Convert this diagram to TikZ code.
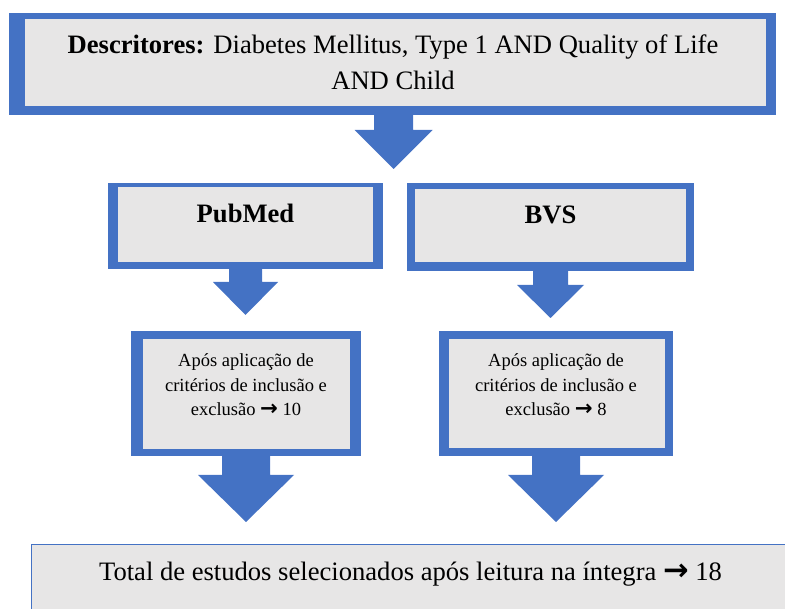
\documentclass[tikz,border=0pt]{standalone}
\usepackage{fontspec}
\setmainfont{Liberation Serif}
\newfontfamily\arrowfont{DejaVu Sans}
\usetikzlibrary{calc}
\definecolor{ablue}{HTML}{4472C4}
\definecolor{agray}{HTML}{E7E6E6}
\newcommand\rarr{{\arrowfont\bfseries\scalebox{1.15}{→}}}
\newcommand\blockarrow[5]{%
  \fill[ablue] ($(#1)+(-#2,-1)$) -- ($(#1)+(#2,-1)$) -- ($(#1)+(#2,#4)$) -- ($(#1)+(#3,#4)$)
    -- ($(#1)+(0,#5)$) -- ($(#1)+(-#3,#4)$) -- ($(#1)+(-#2,#4)$) -- cycle;}
\tikzset{
  frame/.style={fill=ablue, inner sep=0pt, anchor=north west},
  bigtxt/.style={anchor=base, inner sep=0pt, font=\fontsize{26.6}{35.5}\selectfont},
  smalltxt/.style={anchor=base, inner sep=0pt, font=\fontsize{18.5}{24.5}\selectfont},
}
\begin{document}
\begin{tikzpicture}[x=1pt, y=-1pt]
\useasboundingbox (0,0) rectangle (785,609);
\clip (0,0) rectangle (785,609);

% top box
\node[frame, minimum width=767pt, minimum height=102pt] (top) at (9,13) {};
\fill[agray] (25,19) rectangle (766,106);
\node[bigtxt] (toptxt) at (393,54) {\begin{tabular}[t]{@{}c@{}}\textbf{Descritores:} Diabetes Mellitus, Type 1 AND Quality of Life\\ AND Child\end{tabular}};

% PubMed box
\node[frame, minimum width=275pt, minimum height=86pt] (pub) at (108,183) {};
\fill[agray] (118,187) rectangle (373,262);
\node[bigtxt, font=\fontsize{26.6}{35.5}\selectfont\bfseries] (pubtxt) at (245.5,223) {PubMed};

% BVS box
\node[frame, minimum width=287pt, minimum height=88pt] (bvs) at (407,183) {};
\fill[agray] (415,189) rectangle (686,262);
\node[bigtxt, font=\fontsize{26.6}{35.5}\selectfont\bfseries] (bvstxt) at (550.5,224) {BVS};

% middle left box
\node[frame, minimum width=230pt, minimum height=125pt] (midl) at (131,331) {};
\fill[agray] (143,339) rectangle (350,449);
\node[smalltxt] (midltxt) at (246,367) {\begin{tabular}[t]{@{}c@{}}Após aplicação de\\ critérios de inclusão e\\ exclusão \rarr{} 10\end{tabular}};

% middle right box
\node[frame, minimum width=234pt, minimum height=125pt] (midr) at (439,331) {};
\fill[agray] (449,339) rectangle (665,448);
\node[smalltxt] (midrtxt) at (556,367) {\begin{tabular}[t]{@{}c@{}}Após aplicação de\\ critérios de inclusão e\\ exclusão \rarr{} 8\end{tabular}};

% bottom box
\node[draw=ablue, fill=agray, line width=1pt, anchor=north west, inner sep=0pt,
      minimum width=770pt, minimum height=80pt] (total) at (31,544) {};
\node[bigtxt] (totaltxt) at (410.5,580) {Total de estudos selecionados após leitura na íntegra \rarr{} 18};

% block arrows
\coordinate (a0) at (393.5,115);
\coordinate (a1) at (245.5,269);
\coordinate (a2) at (550.5,271);
\coordinate (a3) at (246,456);
\coordinate (a4) at (556,456);
\blockarrow{a0}{19.5}{39}{15}{54}
\blockarrow{a1}{16.5}{32.5}{13}{46}
\blockarrow{a2}{17.5}{33.5}{14}{47}
\blockarrow{a3}{24}{48}{19}{66}
\blockarrow{a4}{24}{48}{19}{66}
\end{tikzpicture}
\end{document}
